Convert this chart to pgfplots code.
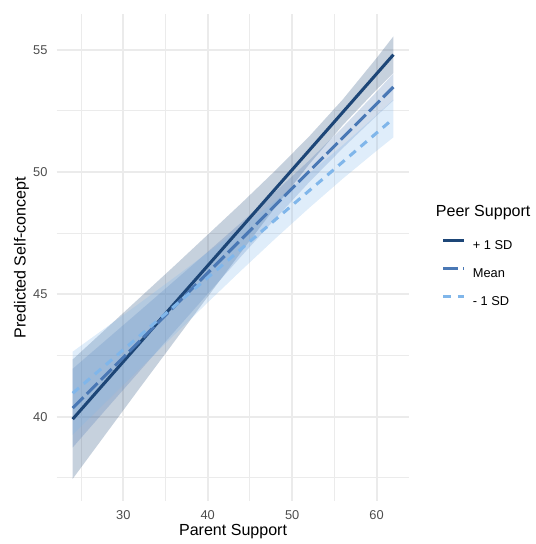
\documentclass[border=0pt]{standalone}
\usepackage{fontspec}
\setmainfont{Liberation Sans}
\usepackage{pgfplots}
\pgfplotsset{compat=1.18}
\usepgfplotslibrary{fillbetween}
\definecolor{cplus}{HTML}{1D4677}
\definecolor{cmean}{HTML}{4A78B5}
\definecolor{cminus}{HTML}{80B6EA}
\definecolor{gridc}{HTML}{EBEBEB}
\definecolor{tickc}{HTML}{4D4D4D}
\begin{document}
\begin{tikzpicture}
\begin{axis}[
  at={(38.86pt,27.27pt)}, anchor=south west,
  scale only axis, width=242pt, height=333.8pt,
  xmin=22.1, xmax=63.9, ymin=36.555, ymax=56.45,
  xtick={30,40,50,60}, minor xtick={25,35,45,55},
  ytick={40,45,50,55}, minor ytick={37.5,42.5,47.5,52.5},
  grid=both,
  major grid style={draw=gridc, line width=1.42pt},
  minor grid style={draw=gridc, line width=0.71pt},
  axis line style={draw=none},
  major tick length=0pt, minor tick length=0pt,
  tick style={draw=none},
  /pgf/number format/assume math mode=true,
  ticklabel style={font=\fontsize{8.8}{10}\selectfont, text=tickc, inner sep=0pt},
  xticklabel style={anchor=north, yshift=-6.5pt},
  yticklabel style={anchor=east, xshift=-6.1pt},
  xlabel={Parent Support}, ylabel={Predicted Self-concept},
  label style={font=\fontsize{11}{13}\selectfont},
  xlabel style={at={(axis description cs:0.5,0)}, anchor=base, yshift=-23.9pt},
  ylabel style={at={(axis description cs:0,0.5)}, anchor=center, rotate=0, yshift=24.2pt},
  legend style={draw=none, fill=none, at={(axis description cs:1.0780,0.4700)}, anchor=west,
    font=\fontsize{8.8}{10}\selectfont, row sep=11.8pt, column sep=5pt,
    nodes={inner sep=0pt, text height=6.3pt, text depth=0pt}},
  legend cell align=left,
  legend image code/.code={\draw[#1] (0pt,3.15pt) -- (14.3pt,3.15pt);},
]
% ribbons: +1 SD
\addplot[draw=none, forget plot, name path=pu] coordinates {(24,42.34) (28,43.61) (32,44.88) (36,46.15) (40,47.44) (44,48.73) (48,50.06) (52,51.45) (56,52.97) (60,54.66) (62,55.55)};
\addplot[draw=none, forget plot, name path=pl] coordinates {(24,37.46) (28,39.33) (32,41.20) (36,43.05) (40,44.91) (44,46.75) (48,48.56) (52,50.31) (56,51.92) (60,53.37) (62,54.05)};
\addplot[fill=cplus, fill opacity=0.25, forget plot] fill between[of=pu and pl];
% Mean
\addplot[draw=none, forget plot, name path=mu] coordinates {(24,41.96) (28,43.15) (32,44.34) (36,45.54) (40,46.74) (44,47.95) (48,49.19) (52,50.47) (56,51.83) (60,53.28) (62,54.03)};
\addplot[draw=none, forget plot, name path=ml] coordinates {(24,38.74) (28,40.32) (32,41.89) (36,43.46) (40,45.02) (44,46.57) (48,48.09) (52,49.58) (56,50.98) (60,52.30) (62,52.93)};
\addplot[fill=cmean, fill opacity=0.25, forget plot] fill between[of=mu and ml];
% -1 SD
\addplot[draw=none, forget plot, name path=nu] coordinates {(24,42.66) (28,43.66) (32,44.66) (36,45.68) (40,46.71) (44,47.75) (48,48.82) (52,49.94) (56,51.10) (60,52.33) (62,52.96)};
\addplot[draw=none, forget plot, name path=nl] coordinates {(24,39.26) (28,40.62) (32,41.98) (36,43.33) (40,44.67) (44,45.99) (48,47.28) (52,48.53) (56,49.73) (60,50.87) (62,51.42)};
\addplot[fill=cminus, fill opacity=0.25, forget plot] fill between[of=nu and nl];
% lines
\addplot[cplus, line width=2.1pt] coordinates {(24,39.90) (62,54.80)};
\addlegendentry{+ 1 SD}
\addplot[cmean, line width=2.1pt, dash pattern=on 10.5pt off 3.2pt] coordinates {(24,40.35) (62,53.48)};
\addlegendentry{Mean}
\addplot[cminus, line width=2.1pt, dash pattern=on 5.6pt off 4.4pt] coordinates {(24,40.96) (62,52.19)};
\addlegendentry{- 1 SD}
\end{axis}
\node[anchor=west, font=\fontsize{11}{13}\selectfont, inner sep=0pt] at (298.8pt,225.1pt) {Peer Support};
\path (0,0) rectangle (367.5pt,370.9pt);
\end{tikzpicture}
\end{document}
